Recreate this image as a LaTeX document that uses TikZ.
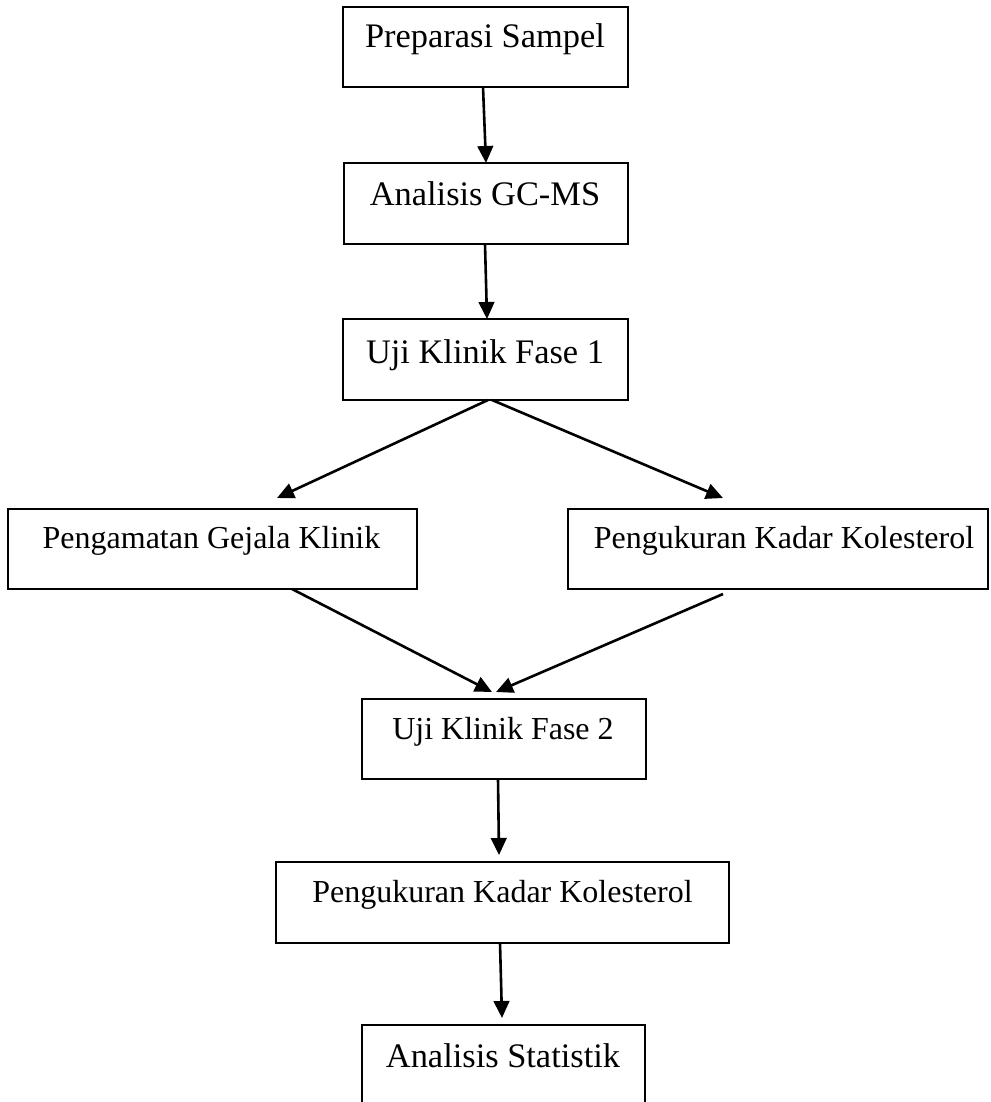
\documentclass[tikz,border=0pt]{standalone}
\usepackage{fontspec}
\setmainfont{Liberation Serif}
\usetikzlibrary{arrows.meta}
\begin{document}
\begin{tikzpicture}[x=0.5pt,y=-0.5pt,
  boxstyle/.style={draw=black, line width=0.6pt, inner sep=0pt, outer sep=0pt},
  txtA/.style={anchor=base, inner sep=0pt, font=\fontsize{17.2pt}{20pt}\selectfont},
  txtB/.style={anchor=base, inner sep=0pt, font=\fontsize{16pt}{19pt}\selectfont},
  arr/.style={line width=1.3pt, -{Triangle[length=8.5pt,width=7.8pt]}}]
\useasboundingbox (0,0) rectangle (990,1102);
% boxes
\node[boxstyle, minimum width=142.5pt, minimum height=40pt] (b1) at (485.5,47) {};
\node[boxstyle, minimum width=142pt, minimum height=40.5pt] (b2) at (486,203.5) {};
\node[boxstyle, minimum width=142.5pt, minimum height=40.5pt] (b3) at (485.5,359.5) {};
\node[boxstyle, minimum width=204.5pt, minimum height=40pt] (b4) at (212.5,549) {};
\node[boxstyle, minimum width=210pt, minimum height=40pt] (b5) at (778,549) {};
\node[boxstyle, minimum width=142pt, minimum height=40pt] (b6) at (504,739) {};
\node[boxstyle, minimum width=226.5pt, minimum height=40.5pt] (b7) at (502.5,902.5) {};
\node[boxstyle, minimum width=141.5pt, minimum height=45pt] (b8) at (503.5,1070) {};
% texts
\node[txtA] (t1) at (485,48) {Preparasi Sampel};
\node[txtA] (t2) at (485,205) {Analisis GC-MS};
\node[txtA] (t3) at (485,363) {Uji Klinik Fase 1};
\node[txtB] (t4) at (211.5,548) {Pengamatan Gejala Klinik};
\node[txtB] (t5) at (784,548) {Pengukuran Kadar Kolesterol};
\node[txtB] (t6) at (503,739) {Uji Klinik Fase 2};
\node[txtB] (t7) at (502.5,902) {Pengukuran Kadar Kolesterol};
\node[txtA] (t8) at (503,1067) {Analisis Statistik};
% arrow end points
\coordinate (a1s) at (483,87);  \coordinate (a1e) at (486,163);
\coordinate (a2s) at (485,244); \coordinate (a2e) at (487,319);
\coordinate (a3s) at (488,400); \coordinate (a3e) at (277,498);
\coordinate (a4s) at (492,400); \coordinate (a4e) at (723,498);
\coordinate (a5s) at (292,589); \coordinate (a5e) at (492,692);
\coordinate (a6s) at (723,594); \coordinate (a6e) at (496,692);
\coordinate (a7s) at (498,779); \coordinate (a7e) at (499,855);
\coordinate (a8s) at (500,943); \coordinate (a8e) at (502,1018);
\draw[arr] (a1s) -- (a1e);
\draw[arr] (a2s) -- (a2e);
\draw[arr] (a3s) -- (a3e);
\draw[arr] (a4s) -- (a4e);
\draw[arr] (a5s) -- (a5e);
\draw[arr] (a6s) -- (a6e);
\draw[arr] (a7s) -- (a7e);
\draw[arr] (a8s) -- (a8e);
\end{tikzpicture}
\end{document}
